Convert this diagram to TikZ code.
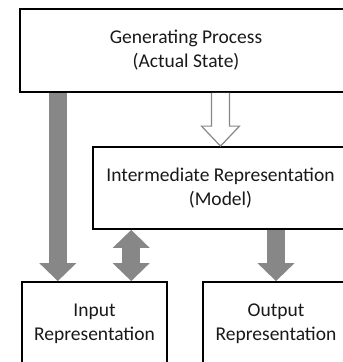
\documentclass[tikz,border=0pt]{standalone}
\usepackage{fontspec}
\setmainfont{Carlito}
\usepackage{tikz}
\usetikzlibrary{
    arrows.meta,
    calc,
    positioning
}
\colorlet{arrowgray}{black!47}
\tikzset{
    block/.style={draw=black, line width=1.8pt, fill=white, align=center,
        text=black!90, font=\fontsize{19.5}{24}\selectfont},
    bigarrow/.style={line width=18pt, draw=arrowgray,
        -{Triangle[width=36pt, length=18pt]}},
    twowayarrow/.style={line width=18pt, draw=arrowgray,
        {Triangle[width=36pt, length=18pt]}-{Triangle[width=36pt, length=18pt]}},
    hollowarrow/.style={draw=arrowgray, line width=1.2pt, fill=white, line join=miter}
}

\begin{document}
\begin{tikzpicture}[x=1pt, y=-1pt]
    \useasboundingbox (0,0) rectangle (343,362);
    \clip (0,0) rectangle (343,362);
    \node[block, minimum width=332pt, minimum height=83pt] (gen) at (186,50.5)
        {Generating Process\\(Actual State)};
    \node[block, minimum width=255pt, minimum height=82pt] (model) at (220.5,188)
        {Intermediate Representation\\(Model)};
    \node[block, minimum width=145pt, minimum height=83pt] (inp) at (94.5,323.5)
        {Input\\Representation};
    \node[block, minimum width=146pt, minimum height=83pt] (outp) at (276,323.5)
        {Output\\Representation};

    \coordinate (inpL) at ($(inp.north west)!0.25!(inp.north east)$);
    \coordinate (inpR) at ($(inp.north west)!0.75!(inp.north east)$);
    \coordinate (htop) at (gen.south -| model.north);

    \draw[bigarrow] (gen.south -| inpL) -- (inpL);
    \draw[twowayarrow] (model.south -| inpR) -- (inpR);
    \draw[bigarrow] (model.south -| outp.north) -- (outp.north);
    \draw[hollowarrow] ([xshift=-9pt]htop) -- ([xshift=-9pt, yshift=20pt]model.north)
        -- ([xshift=-19pt, yshift=20pt]model.north) -- (model.north)
        -- ([xshift=19pt, yshift=20pt]model.north) -- ([xshift=9pt, yshift=20pt]model.north)
        -- ([xshift=9pt]htop);
\end{tikzpicture}
\end{document}
